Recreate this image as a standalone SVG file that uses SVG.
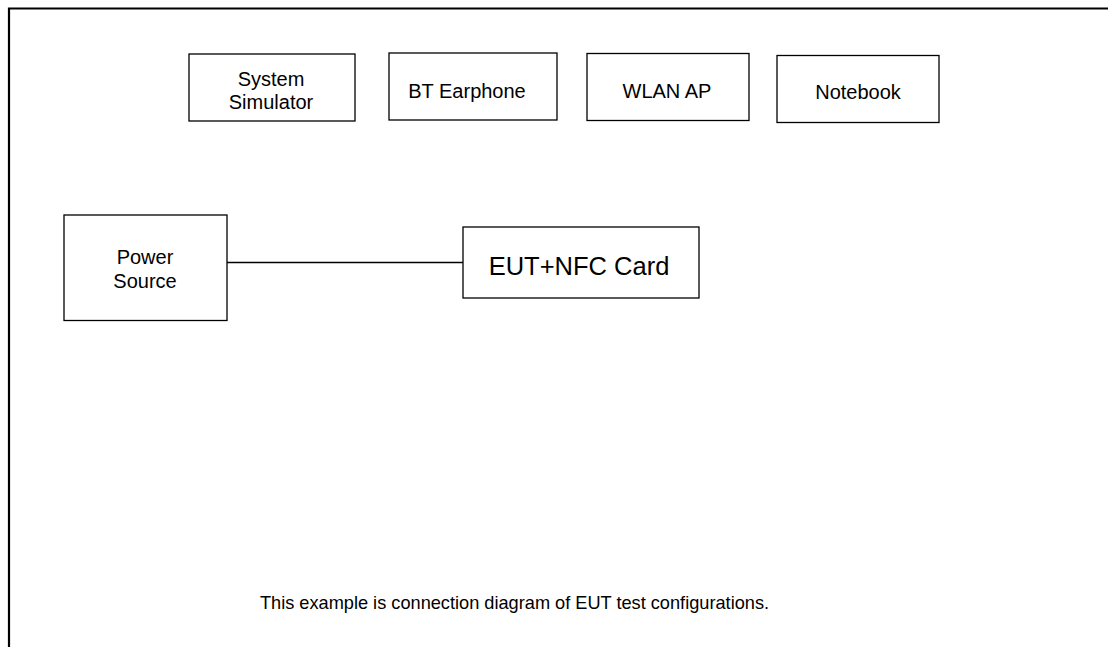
<svg xmlns="http://www.w3.org/2000/svg" width="1108" height="647" viewBox="0 0 1108 647">
<style>
.box{fill:#fff;stroke:#000;stroke-width:1.3}
.t{font-family:"Liberation Sans",Arial,sans-serif;font-size:20px;fill:#000;text-anchor:middle}
.frame{fill:none;stroke:#000;stroke-width:2.2}
.conn{stroke:#000;stroke-width:1.3;fill:none}
</style>
<rect width="1108" height="647" fill="#fff"/>
<g id="frame">
<path class="frame" d="M9 647 V8.5 H1108"/>
</g>
<g id="system-simulator">
<rect class="box" x="189" y="54" width="166" height="67"/>
<text class="t" x="271" y="85.5">System</text>
<text class="t" x="271" y="109">Simulator</text>
</g>
<g id="bt-earphone">
<rect class="box" x="389" y="53" width="168" height="67"/>
<text class="t" x="467" y="98">BT Earphone</text>
</g>
<g id="wlan-ap">
<rect class="box" x="587" y="53.5" width="162" height="67"/>
<text class="t" x="667" y="98">WLAN AP</text>
</g>
<g id="notebook">
<rect class="box" x="777" y="55.5" width="162" height="67"/>
<text class="t" x="858" y="98.5">Notebook</text>
</g>
<g id="power-source">
<rect class="box" x="64" y="215" width="163" height="105.5"/>
<text class="t" x="145" y="264">Power</text>
<text class="t" x="145" y="288">Source</text>
</g>
<g id="eut">
<rect class="box" x="463" y="227" width="236" height="71"/>
<text class="t" x="579" y="275" style="font-size:25.5px">EUT+NFC Card</text>
</g>
<g id="connectors">
<line class="conn" x1="227" y1="262.5" x2="463" y2="262.5"/>
</g>
<g id="caption">
<text class="t" x="514.5" y="609" style="font-size:18.2px">This example is connection diagram of EUT test configurations.</text>
</g>
</svg>
